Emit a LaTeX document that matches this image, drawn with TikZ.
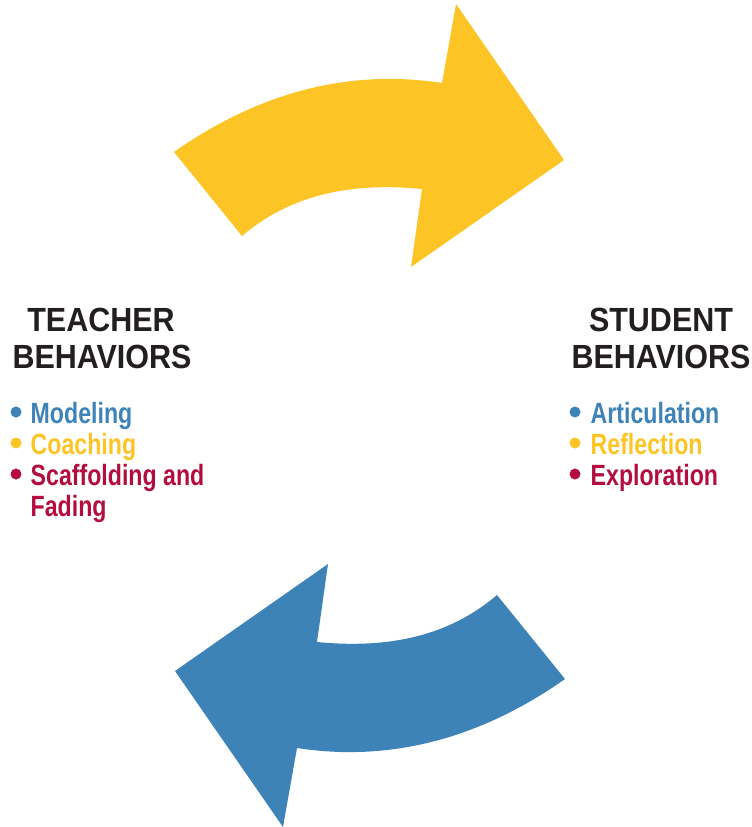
\documentclass[tikz,border=0pt]{standalone}
\usepackage{fontspec}
\setmainfont{Liberation Sans}
\newfontfamily\headfont{Liberation Sans}[FakeStretch=0.91]
\newfontfamily\itemfont{Liberation Sans}[FakeStretch=0.79]
\definecolor{arrowyellow}{HTML}{FDC425}
\definecolor{arrowblue}{HTML}{3E83B8}
\definecolor{itemred}{HTML}{B30D3F}
\definecolor{headdark}{HTML}{231F20}
\tikzset{
  x=1pt, y=-1pt,
  headline/.style={anchor=base, inner sep=0pt, text=headdark, font=\headfont\bfseries\fontsize{33.5}{37}\selectfont},
  itemline/.style={anchor=base west, inner sep=0pt, font=\itemfont\bfseries\fontsize{29.3}{32}\selectfont},
  dot/.style={circle, inner sep=0pt, minimum size=11pt}
}
\begin{document}
\begin{tikzpicture}
\useasboundingbox (0,0) rectangle (752,827);
% yellow arrow
\fill[arrowyellow] (174,152) .. controls (255,95) and (345,68) .. (442,83) -- (456,4) -- (564,160) -- (411,267) -- (422,189) .. controls (350,182) and (290,195) .. (242,236) -- cycle;
% blue arrow (point reflection of the yellow one)
\begin{scope}[rotate around={180:(369.5,415.5)}]
\fill[arrowblue] (174,152) .. controls (255,95) and (345,68) .. (442,83) -- (456,4) -- (564,160) -- (411,267) -- (422,189) .. controls (350,182) and (290,195) .. (242,236) -- cycle;
\end{scope}
% teacher
\node[headline] (t1) at (101,331) {TEACHER};
\node[headline] (t2) at (102,368) {BEHAVIORS};
\node[dot, fill=arrowblue] (tb1) at (16,412) {};
\node[dot, fill=arrowyellow] (tb2) at (16,443) {};
\node[dot, fill=itemred] (tb3) at (16,474) {};
\node[itemline, text=arrowblue] (ti1) at (30.5,423) {Modeling};
\node[itemline, text=arrowyellow] (ti2) at (30.5,454) {Coaching};
\node[itemline, text=itemred] (ti3) at (30.5,485) {Scaffolding and};
\node[itemline, text=itemred] (ti4) at (30.5,516) {Fading};
% student
\node[headline] (s1) at (661,331) {STUDENT};
\node[headline] (s2) at (661,368) {BEHAVIORS};
\node[dot, fill=arrowblue] (sb1) at (575,412) {};
\node[dot, fill=arrowyellow] (sb2) at (575,443) {};
\node[dot, fill=itemred] (sb3) at (575,474) {};
\node[itemline, text=arrowblue] (si1) at (590.5,423) {Articulation};
\node[itemline, text=arrowyellow] (si2) at (590.5,454) {Reflection};
\node[itemline, text=itemred] (si3) at (590.5,485) {Exploration};
\end{tikzpicture}
\end{document}
